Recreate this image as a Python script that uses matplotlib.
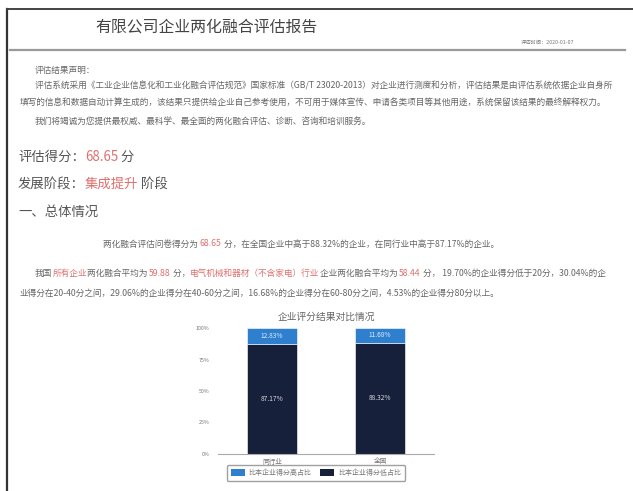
import matplotlib
matplotlib.use('Agg')
import matplotlib.pyplot as plt
from matplotlib.lines import Line2D
from matplotlib.patches import Patch

plt.rcParams['font.family'] = ['Noto Sans CJK SC', 'DejaVu Sans']

# chart data
categories = ['同行业', '全国']
low_pct = [87.17, 88.32]     # 比本企业得分低占比
high_pct = [12.83, 11.68]    # 比本企业得分高占比
series_names = ['比本企业得分高占比', '比本企业得分低占比']
ytick_vals = [0, 25, 50, 75, 100]
ytick_labels = ['0%', '25%', '50%', '75%', '100%']
chart_title = '企业评分结果对比情况'

W, H = 633, 491
GRAY = '#666666'
RED = '#e07070'
BLUE = '#2f7fcf'
NAVY = '#16203a'

fig = plt.figure(figsize=(W / 100, H / 100), dpi=100)
fig.patch.set_facecolor('white')


def fx(x):
    return x / W


def fy(y):
    return 1 - y / H


renderer = fig.canvas.get_renderer()


def line_text(x, y, parts, size, weight='normal'):
    # draw text segments one after another, each with its own colour
    cx = x
    for txt, col in parts:
        t = fig.text(fx(cx), fy(y), txt, fontsize=size, color=col, va='center', ha='left', fontweight=weight)
        bb = t.get_window_extent(renderer=renderer)
        cx += bb.width
    return cx


# page frame
fig.add_artist(Line2D([fx(7), fx(7)], [fy(9), fy(491)], color='#333333', lw=1.6))
fig.add_artist(Line2D([fx(7), fx(633)], [fy(9), fy(9)], color='#444444', lw=1.4))
fig.add_artist(Line2D([fx(10), fx(625)], [fy(50), fy(50)], color='#999999', lw=1.6))

# header
fig.text(fx(95), fy(27), '有限公司企业两化融合评估报告', fontsize=11.4, color='#444444', va='center', ha='left')
fig.text(fx(521), fy(42), '评估时间：2020-01-07', fontsize=3.8, color='#777777', va='center', ha='left')

# statement
fs = 6.25
line_text(35, 70, [('评估结果声明：', GRAY)], fs)
line_text(35, 86, [('评估系统采用《工业企业信息化和工业化融合评估规范》国家标准（GB/T 23020-2013）对企业进行测度和分析，评估结果是由评估系统依据企业自身所', GRAY)], fs)
line_text(20, 103, [('填写的信息和数据自动计算生成的，该结果只提供给企业自己参考使用，不可用于媒体宣传、申请各类项目等其他用途，系统保留该结果的最终解释权力。', GRAY)], fs)
line_text(35, 121, [('我们将竭诚为您提供最权威、最科学、最全面的两化融合评估、诊断、咨询和培训服务。', GRAY)], fs)

# score
hs = 9.6
line_text(18, 157, [('评估得分：', '#555555'), ('68.65', RED), (' 分', '#555555')], hs)
line_text(18, 184, [('发展阶段：', '#555555'), ('集成提升', RED), (' 阶段', '#555555')], hs)
line_text(18, 212, [('一、总体情况', '#555555')], hs)

line_text(103, 244, [('两化融合评估问卷得分为 ', GRAY), ('68.65', RED),
                     (' 分，在全国企业中高于88.32%的企业，在同行业中高于87.17%的企业。', GRAY)], fs)
line_text(35, 273, [('我国', GRAY), ('所有企业', RED), ('两化融合平均为 ', GRAY), ('59.88', RED), (' 分，', GRAY),
                    ('电气机械和器材（不含家电）行业', RED), ('企业两化融合平均为 ', GRAY), ('58.44', RED),
                    (' 分， 19.70%的企业得分低于20分，30.04%的企', GRAY)], fs)
line_text(20, 293, [('业得分在20-40分之间，29.06%的企业得分在40-60分之间，16.68%的企业得分在60-80分之间，4.53%的企业得分80分以上。', GRAY)], fs)

# chart
ax = fig.add_axes([fx(218), fy(454), (434 - 218) / W, (454 - 328) / H])
x = list(range(len(categories)))
low = [v / 100 for v in low_pct]
high = [v / 100 for v in high_pct]
bw = 0.47
ax.bar(x, low, width=bw, color=NAVY, edgecolor='white', linewidth=0.4, label=series_names[1])
ax.bar(x, high, width=bw, bottom=low, color=BLUE, edgecolor='white', linewidth=0.4, label=series_names[0])
for i in x:
    ax.text(i, low[i] / 2, f'{low_pct[i]:.2f}%', ha='center', va='center', fontsize=4.8, color='#d8d8e0')
    ax.text(i, low[i] + high[i] / 2, f'{high_pct[i]:.2f}%', ha='center', va='center', fontsize=4.8, color='#e0ecf8')

ax.set_xlim(-0.5, 1.5)
ax.set_ylim(0, 1.0)
ax.set_yticks([v / 100 for v in ytick_vals])
ax.set_yticklabels(ytick_labels)
ax.set_xticks(x)
ax.set_xticklabels(categories)
for s in ['top', 'right', 'left']:
    ax.spines[s].set_visible(False)
ax.spines['bottom'].set_color('#aaaaaa')
ax.spines['bottom'].set_linewidth(0.8)
ax.tick_params(axis='y', length=0, labelsize=3.8, labelcolor='#777777', pad=6)
ax.tick_params(axis='x', length=0, labelsize=4.8, labelcolor='#777777', pad=2.5)
ax.set_title(chart_title, fontsize=7, color='#666666', pad=6)

handles = [Patch(facecolor=BLUE, label=series_names[0]), Patch(facecolor=NAVY, label=series_names[1])]
fig.legend(handles=handles, loc='center', bbox_to_anchor=(fx(316), fy(473)), ncol=2, fontsize=5.0,
           frameon=True, edgecolor='#888888', fancybox=True, handlelength=2.0, handleheight=1.1,
           columnspacing=1.2, handletextpad=0.6, labelcolor='#777777', borderpad=0.55)

fig.savefig('out.png', dpi=100, facecolor='white')
